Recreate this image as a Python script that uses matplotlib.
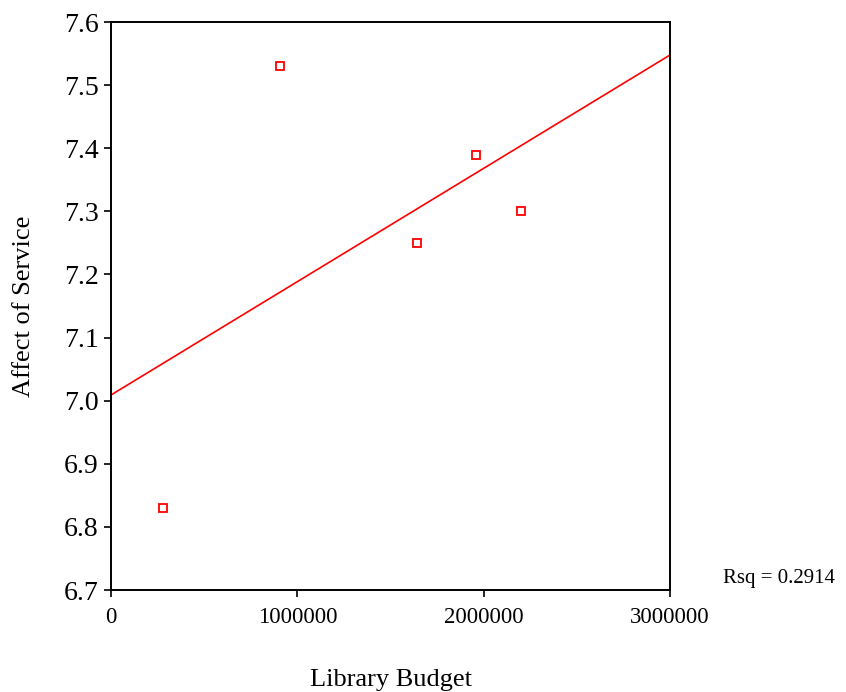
import matplotlib.pyplot as plt
import numpy as np

plt.rcParams['font.family'] = ['Liberation Serif', 'DejaVu Serif']

# library budget vs. affect of service
budget = np.array([279000, 907000, 1643000, 1959000, 2201000])
affect = np.array([6.83, 7.53, 7.25, 7.39, 7.30])

slope, intercept = np.polyfit(budget, affect, 1)
rsq = np.corrcoef(budget, affect)[0, 1] ** 2

fig = plt.figure(figsize=(8.46, 6.92), dpi=100)
ax = fig.add_axes([111 / 846, 102 / 692, 559 / 846, 568 / 692])

xs = np.array([0, 3000000])
ax.plot(xs, intercept + slope * xs, color='red', lw=1.2, zorder=2)
ax.plot(budget, affect, 's', ms=5.5, mfc='none', mec='red', mew=1.3,
        ls='none', zorder=3)

ax.set_xlim(0, 3000000)
ax.set_ylim(6.7, 7.6)
ax.set_xticks([0, 1000000, 2000000, 3000000])
ax.set_xticklabels(['0', '1000000', '2000000', '3000000'])
ax.set_yticks(np.arange(6.7, 7.61, 0.1))
ax.set_yticklabels([f'{v:.1f}' for v in np.arange(6.7, 7.61, 0.1)])
ax.tick_params(axis='x', direction='out', length=5, width=1.2, labelsize=16.5, pad=7)
ax.tick_params(axis='y', direction='out', length=5, width=1.2, labelsize=20, pad=4)
for s in ax.spines.values():
    s.set_linewidth(1.4)

ax.set_xlabel('Library Budget', fontsize=19)
ax.xaxis.set_label_coords(0.5, -0.158)
ax.xaxis.label.set_va('center')
ax.set_ylabel('Affect of Service', fontsize=19)
ax.yaxis.set_label_coords(-0.155, 0.5)
ax.yaxis.label.set_va('center')

fig.text(723 / 846, 1 - 578 / 692, f'Rsq = {0.2914:.4f}', fontsize=15,
         ha='left', va='center')

fig.savefig('out.png', dpi=100)
